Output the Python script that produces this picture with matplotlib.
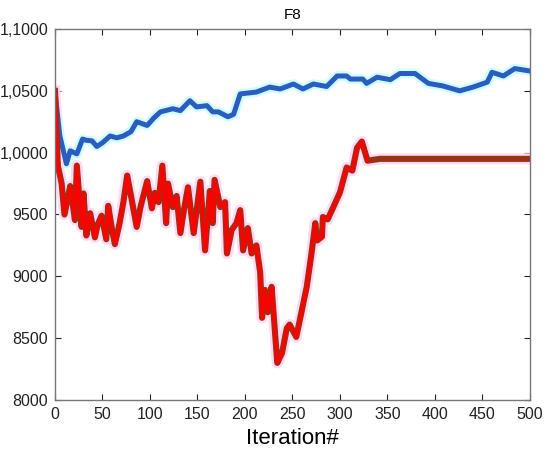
import matplotlib
matplotlib.use('Agg')
from matplotlib import pyplot as plt

plt.rcParams['font.family'] = ['Liberation Sans', 'DejaVu Sans']

# blue series (iteration, value)
blue_x = [0, 5, 12, 16, 23, 29, 33, 39, 44, 50, 58, 65, 72, 80, 86, 97, 104, 111, 124, 132, 142, 149,
          160, 166, 172, 182, 188, 195, 212, 226, 237, 251, 261, 272, 286, 297, 307, 311, 324, 328,
          339, 353, 363, 379, 393, 408, 426, 440, 455, 460, 472, 484, 500]
blue_y = [10490, 10140, 9910, 10015, 9990, 10110, 10100, 10095, 10050, 10080, 10135, 10120, 10135,
          10170, 10250, 10220, 10280, 10330, 10355, 10340, 10420, 10370, 10380, 10330, 10330, 10290,
          10310, 10475, 10490, 10530, 10515, 10555, 10515, 10555, 10535, 10620, 10620, 10595,
          10595, 10560, 10610, 10590, 10640, 10640, 10560, 10540, 10500, 10530, 10570, 10650,
          10620, 10680, 10660]

# red series (iteration, value)
red_x = [0, 3, 7, 10, 16, 21, 23, 28, 30, 33, 37, 42, 45, 49, 54, 56, 60, 63, 68, 72, 76, 81, 86,
         90, 97, 102, 105, 109, 113, 117, 119, 124, 128, 132, 136, 140, 146, 153, 158, 163, 166, 168,
         174, 179, 181, 186, 191, 195, 198, 203, 207, 212, 216, 218, 221, 224, 228, 234, 239, 244,
         247, 254, 265, 270, 274, 276, 281, 282, 287, 293, 300, 307, 313, 318, 323, 329, 342]
red_y = [10500, 9895, 9750, 9500, 9730, 9455, 9895, 9400, 9670, 9330, 9510, 9315, 9420, 9490, 9300,
         9570, 9380, 9260, 9430, 9600, 9815, 9610, 9400, 9560, 9770, 9550, 9675, 9600, 9895, 9430,
         9750, 9560, 9650, 9350, 9550, 9720, 9350, 9765, 9210, 9690, 9430, 9780, 9560, 9600, 9185,
         9375, 9430, 9535, 9210, 9390, 9185, 9250, 9030, 8665, 8890, 8710, 8915, 8300, 8380, 8580,
         8610, 8510, 8915, 9185, 9430, 9290, 9320, 9480, 9460, 9560, 9680, 9880, 9855, 10040,
         10090, 9935, 9950]

# flat tail of the brown series
tail_x = [342, 370, 400, 450, 500]
tail_y = [9950, 9950, 9950, 9950, 9950]

yticks = [8000, 8500, 9000, 9500, 10000, 10500, 11000]
ytick_labels = ['8000', '8500', '9000', '9500', '1,0000', '1,0500', '1,1000']

fig = plt.figure(figsize=(5.5, 4.66), dpi=100)
ax = fig.add_axes([0.1, 0.1416, 0.8636, 0.7962])

# faint halos (jpeg look)
ax.plot(blue_x, blue_y, color='#ccffff', lw=7, solid_joinstyle='round')
ax.plot(red_x + tail_x, red_y + tail_y, color='#ffd9f5', lw=8, solid_joinstyle='round')

ax.plot(blue_x, blue_y, color='#2b5cc2', lw=3.6, solid_joinstyle='round')
ax.plot(red_x + tail_x, red_y + tail_y, color='#993311', lw=4.4, solid_joinstyle='round')
ax.plot(red_x[:-1], red_y[:-1], color='#ff0000', lw=2.4, solid_joinstyle='round')

ax.set_xlim(0, 500)
ax.set_ylim(8000, 11000)
ax.set_xticks(range(0, 501, 50))
ax.set_yticks(yticks)
ax.set_yticklabels(ytick_labels)
ax.tick_params(direction='in', top=True, right=True, length=4, width=0.8,
               labelsize=11.5, colors='#222222', pad=5)
for s in ax.spines.values():
    s.set_color('#777777')
    s.set_linewidth(1.0)

ax.set_title('F8', fontsize=11, pad=7)
ax.set_xlabel('Iteration#', fontsize=16, labelpad=4)

fig.savefig('out.png', dpi=100)
